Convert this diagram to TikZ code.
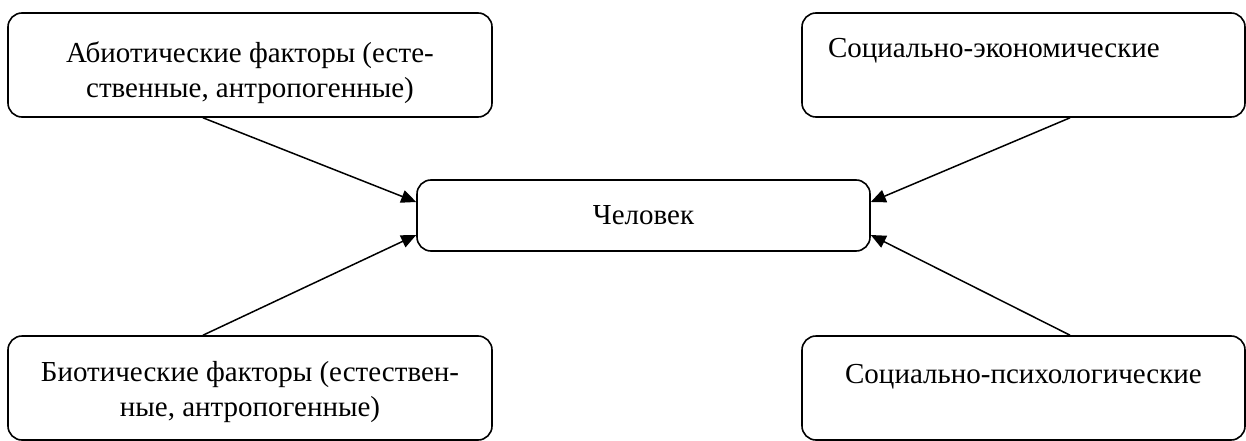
\documentclass[tikz,border=0pt]{standalone}
\usepackage{fontspec}
\setmainfont{Liberation Serif}
\usetikzlibrary{arrows.meta}
\newcommand{\firstline}[1]{\rule{0pt}{#1}}
\tikzset{
    factorbox/.style={draw, line width=1.6pt, rounded corners=14pt, inner sep=0pt,
        font=\fontsize{29}{35}\selectfont, align=center},
    factorarrow/.style={line width=1.5pt, -{Triangle[length=15pt,width=13pt]}}
}
\begin{document}
\begin{tikzpicture}[x=1pt, y=1pt]
    \useasboundingbox (0,0) rectangle (1246,-441);
    % Center
    \node[factorbox, minimum width=453pt, minimum height=71pt] (man) at (643.5,-215.5) {Человек};
    % Left column
    \node[factorbox, minimum width=484pt, minimum height=104pt] (abio) at (250,-65)
        {\firstline{36pt}Абиотические факторы (есте-\\ственные, антропогенные)};
    \node[factorbox, minimum width=484pt, minimum height=104pt] (bio) at (250,-388)
        {\firstline{29pt}Биотические факторы (естествен-\\ные, антропогенные)};
    % Right column
    \node[factorbox, minimum width=443pt, minimum height=104pt, text width=391pt, align=left] (socec) at (1023.5,-65)
        {Социально-экономические\\\mbox{}};
    \node[factorbox, minimum width=443pt, minimum height=104pt] (socpsy) at (1023.5,-388)
        {\firstline{25pt}Социально-психологические\\\mbox{}};
    
    % Arrows into the center box
    \draw[factorarrow] ([xshift=-47pt]abio.south) -- ([yshift=13.5pt]man.west);
    \draw[factorarrow] ([xshift=-47pt]bio.north) -- ([yshift=-19.5pt]man.west);
    \draw[factorarrow] ([xshift=46.5pt]socec.south) -- ([yshift=13.5pt]man.east);
    \draw[factorarrow] ([xshift=46.5pt]socpsy.north) -- ([yshift=-19.5pt]man.east);
\end{tikzpicture}
\end{document}
